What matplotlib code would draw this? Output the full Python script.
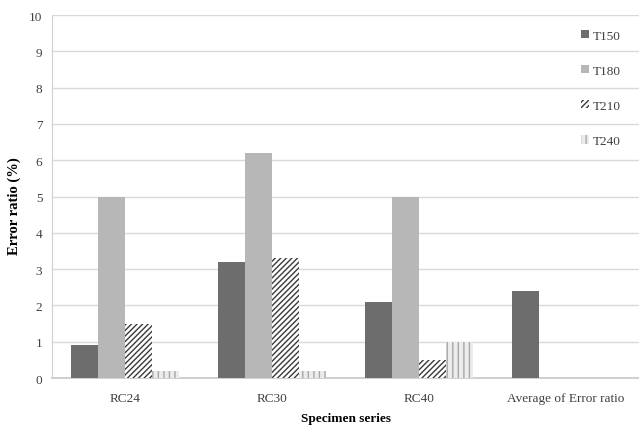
import matplotlib
matplotlib.use("Agg")
import matplotlib.pyplot as plt
import numpy as np

plt.rcParams['font.family'] = ['Liberation Serif', 'DejaVu Serif']
plt.rcParams['hatch.linewidth'] = 1.0

categories = ["RC24", "RC30", "RC40", "Average of Error ratio"]
series = ["T150", "T180", "T210", "T240"]
T150 = [0.9, 3.2, 2.1, 2.4]
T180 = [5.0, 6.2, 5.0, 0.0]
T210 = [1.5, 3.3, 0.5, 0.0]
T240 = [0.2, 0.2, 1.0, 0.0]
values = [T150, T180, T210, T240]
yticks = list(range(0, 11))

fig = plt.figure(figsize=(6.39, 4.27), dpi=100)
ax = fig.add_axes([0.0814, 0.1124, 0.9186, 0.8501])

x = np.arange(len(categories))
w = 0.184
styles = [
    dict(color="#6d6d6d"),
    dict(color="#b7b7b7"),
    dict(facecolor="white", edgecolor="#3a3a3a", hatch="//////", linewidth=0),
    dict(facecolor="#ececec", edgecolor="#a8a8a8", hatch="|||", linewidth=0),
]
for i, (name, vals) in enumerate(zip(series, values)):
    ax.bar(x + (i - 1.5) * w, vals, w, label=name, zorder=3, **styles[i])

ax.set_xlim(-0.5, len(categories) - 0.5)
ax.set_ylim(0, 10)
ax.set_yticks(yticks)
ax.set_xticks(x)
ax.set_xticklabels(categories)
ax.tick_params(axis='both', length=0, labelsize=9.5, colors="#404040")
ax.tick_params(axis='x', pad=10)
ax.tick_params(axis='y', pad=7)
ax.grid(axis='y', color="#d9d9d9", linewidth=1, zorder=0)
for s in ['top', 'right']:
    ax.spines[s].set_visible(False)
ax.spines['left'].set_color("#d0d0d0")
ax.spines['bottom'].set_color("#c8c8c8")
ax.spines['bottom'].set_linewidth(1.2)
ax.set_ylabel("Error ratio (%)", fontsize=10.5, fontweight='bold')
ax.yaxis.set_label_coords(-0.052, 0.475)
ax.set_xlabel("Specimen series", fontsize=9.5, fontweight='bold', labelpad=6)

leg = ax.legend(loc='upper right', bbox_to_anchor=(0.985, 0.985), frameon=False,
                fontsize=9.5, labelspacing=1.75, handlelength=0.6, handleheight=0.6,
                handletextpad=0.3, borderaxespad=0.3)
for t in leg.get_texts():
    t.set_color("#404040")

fig.savefig("out.png", dpi=100)
